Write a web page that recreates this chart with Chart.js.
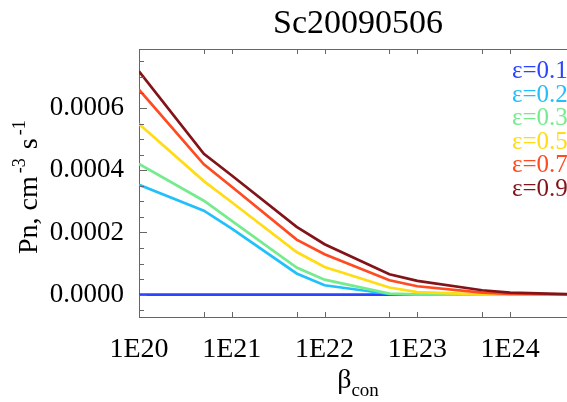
<!DOCTYPE html>
<html>
<head>
<meta charset="utf-8">
<script src="https://cdn.jsdelivr.net/npm/chart.js@4/dist/chart.umd.min.js"></script>
<style>
  html, body { margin: 0; padding: 0; background: #fff; overflow: hidden; }
</style>
</head>
<body>
<canvas id="pnChart" width="567" height="402"></canvas>
<script>
// beta_con values along the x axis
const betaCon = [1e20, 5e20, 1e21, 5e21, 1e22, 5e22, 1e23, 5e23, 1e24, 5e24, 1e25];

// Pn for each epsilon
const pnEps01 = [0, 0, 0, 0, 0, 0, 0, 0, 0, 0, 0];
const pnEps02 = [3.53e-4, 2.70e-4, 2.12e-4, 0.68e-4, 0.30e-4, 0.02e-4, 0, 0, 0, 0, 0];
const pnEps03 = [4.20e-4, 3.02e-4, 2.37e-4, 0.87e-4, 0.48e-4, 0.03e-4, 0.01e-4, 0, 0, 0, 0];
const pnEps05 = [5.49e-4, 3.65e-4, 2.97e-4, 1.37e-4, 0.89e-4, 0.23e-4, 0.08e-4, 0.01e-4, 0, 0, 0];
const pnEps07 = [6.59e-4, 4.19e-4, 3.47e-4, 1.77e-4, 1.30e-4, 0.46e-4, 0.27e-4, 0.065e-4, 0.02e-4, 0.003e-4, 0];
const pnEps09 = [7.18e-4, 4.53e-4, 3.83e-4, 2.18e-4, 1.62e-4, 0.655e-4, 0.44e-4, 0.14e-4, 0.065e-4, 0.01e-4, 0];

const epsLabels = ['ε=0.1', 'ε=0.2', 'ε=0.35', 'ε=0.5', 'ε=0.75', 'ε=0.9'];
const epsColors = ['#2b45ff', '#22c0fa', '#74ec8e', '#ffdc14', '#ff4a22', '#821419'];

// tick positions
const xMajorTicks = [1e20, 1e21, 1e22, 1e23, 1e24];
const xMinorTicks = [5e20, 5e21, 5e22, 5e23, 5e24];
const yMajorTicks = [0, 0.0002, 0.0004, 0.0006];
const yMinorTicks = [-0.00005, 0.00005, 0.0001, 0.00015, 0.00025, 0.0003, 0.00035,
                     0.00045, 0.0005, 0.00055, 0.00065, 0.0007, 0.00075];

const serif = "'Liberation Serif', 'Times New Roman', serif";
const axisColor = '#666';

let seriesList = [pnEps01, pnEps02, pnEps03, pnEps05, pnEps07, pnEps09];

// frame on top, inward ticks, titles and the epsilon key
const overlay = {
  id: 'overlay',
  afterDraw(chart) {
    const ctx = chart.ctx;
    const area = chart.chartArea;
    const xs = chart.scales.x;
    const ys = chart.scales.y;
    ctx.save();

    ctx.strokeStyle = axisColor;
    ctx.lineWidth = 1;
    ctx.beginPath();
    ctx.moveTo(area.left, area.top + 0.5);
    ctx.lineTo(area.right, area.top + 0.5);

    xMajorTicks.concat(xMinorTicks).forEach(v => {
      let px = Math.round(xs.getPixelForValue(v)) + 0.5;
      if (px > area.right) return;
      ctx.moveTo(px, area.bottom);
      ctx.lineTo(px, area.bottom - 5);
      ctx.moveTo(px, area.top);
      ctx.lineTo(px, area.top + 5);
    });
    yMajorTicks.forEach(v => {
      let py = Math.round(ys.getPixelForValue(v)) + 0.5;
      ctx.moveTo(area.left, py);
      ctx.lineTo(area.left + 8, py);
    });
    yMinorTicks.forEach(v => {
      let py = Math.round(ys.getPixelForValue(v)) + 0.5;
      ctx.moveTo(area.left, py);
      ctx.lineTo(area.left + 5, py);
    });
    ctx.stroke();

    const mid = 358;
    ctx.fillStyle = '#000';
    ctx.textBaseline = 'alphabetic';

    // title
    ctx.font = '34px ' + serif;
    ctx.textAlign = 'center';
    ctx.fillText('Sc20090506', mid, 33);

    // x axis title: beta with "con" subscript
    ctx.textAlign = 'left';
    ctx.font = '28px ' + serif;
    let wBeta = ctx.measureText('β').width;
    ctx.font = '19px ' + serif;
    let wSub = ctx.measureText('con').width;
    let x0 = mid - (wBeta + wSub) / 2;
    ctx.font = '28px ' + serif;
    ctx.fillText('β', x0, 388);
    ctx.font = '19px ' + serif;
    ctx.fillText('con', x0 + wBeta, 396);

    // y axis title, rotated, with superscripts
    ctx.translate(37, 254);
    ctx.rotate(-Math.PI / 2);
    let parts = [['Pn, cm', 28, 0], ['-3', 18, -12], [' s', 28, 0], ['-1', 18, -12]];
    let cx = 0;
    parts.forEach(p => {
      ctx.font = p[1] + 'px ' + serif;
      ctx.fillText(p[0], cx, p[2]);
      cx += ctx.measureText(p[0]).width + (p[1] < 28 ? 2 : 3);
    });
    ctx.restore();

    // epsilon key
    ctx.save();
    ctx.font = '25px ' + serif;
    ctx.textAlign = 'left';
    epsLabels.forEach((lbl, i) => {
      ctx.fillStyle = epsColors[i];
      ctx.fillText(lbl, 512, 78 + i * 23.6);
    });
    ctx.restore();
  }
};

let datasets = seriesList.map((vals, i) => ({
  label: epsLabels[i],
  data: betaCon.map((b, j) => ({ x: b, y: vals[j] })),
  borderColor: epsColors[i],
  borderWidth: 2.7,
  pointRadius: 0,
  tension: 0,
  fill: false,
  order: seriesList.length - i
}));

new Chart(document.getElementById('pnChart'), {
  type: 'line',
  data: { datasets: datasets },
  options: {
    responsive: false,
    animation: false,
    devicePixelRatio: 1,
    layout: { padding: { top: 49, left: 0, right: 0, bottom: 0 } },
    plugins: {
      legend: { display: false },
      tooltip: { enabled: false }
    },
    scales: {
      x: {
        type: 'logarithmic',
        min: 1e20,
        max: 4.1e24,
        afterBuildTicks: s => { s.ticks = xMajorTicks.map(v => ({ value: v })); },
        afterFit: s => { s.height = 85; },
        grid: { display: false },
        border: { color: axisColor, width: 1 },
        ticks: {
          autoSkip: false,
          maxRotation: 0,
          padding: 8,
          color: '#000',
          font: { family: serif, size: 28 },
          callback: v => '1E' + Math.round(Math.log10(v))
        }
      },
      y: {
        min: -0.000072,
        max: 0.00079,
        afterBuildTicks: s => { s.ticks = yMajorTicks.map(v => ({ value: v })); },
        afterFit: s => { s.width = 139; },
        grid: { display: false },
        border: { color: axisColor, width: 1 },
        ticks: {
          padding: 7,
          color: '#000',
          font: { family: serif, size: 27 },
          callback: v => v.toFixed(4)
        }
      }
    }
  },
  plugins: [overlay]
});
</script>
</body>
</html>
